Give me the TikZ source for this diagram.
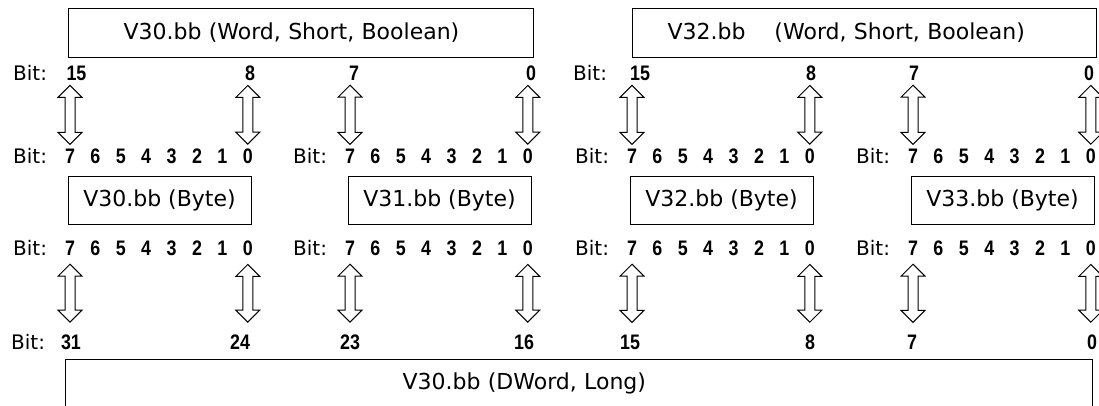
\documentclass[tikz,border=0pt]{standalone}
\usepackage{fontspec}
\setmainfont{DejaVu Sans}
\newfontfamily\digitfont{Liberation Sans}[FakeStretch=0.85]
\usetikzlibrary{calc,positioning}

\begin{document}
\begin{tikzpicture}[
    x=1pt, y=-1pt,
    wordbox/.style={draw, line width=1pt, minimum height=49pt, inner ysep=0pt, align=left, font=\fontsize{22}{26}\selectfont},
    bytebox/.style={draw, line width=1pt, minimum width=183pt, minimum height=48pt, inner sep=0pt, font=\fontsize{22}{26}\selectfont},
    bitlbl/.style={anchor=base west, inner sep=0pt, font=\fontsize{20}{24}\selectfont},
    digit/.style={anchor=base, inner sep=0pt, font=\digitfont\bfseries\fontsize{21}{25}\selectfont},
    dblarrow/.style={draw, line width=1pt, fill=white, to path={
        (\tikztostart) -- ($(\tikztostart)+(12pt,-12pt)$) -- ($(\tikztostart)+(5pt,-12pt)$)
        -- ($(\tikztotarget)+(5pt,12pt)$) -- ($(\tikztotarget)+(12pt,12pt)$) -- (\tikztotarget)
        -- ($(\tikztotarget)+(-12pt,12pt)$) -- ($(\tikztotarget)+(-5pt,12pt)$)
        -- ($(\tikztostart)+(-5pt,-12pt)$) -- ($(\tikztostart)+(-12pt,-12pt)$) -- cycle}}
]
    \clip (0,0) rectangle (1099,405);

    % Word (16 bit)
    \node[wordbox, anchor=north west, text width=355pt, inner xsep=55pt] (wordA) at (68,8) {V30.bb (Word, Short, Boolean)};
    \node[wordbox, anchor=north west, text width=394pt, inner xsep=35pt] (wordB) at (632,8) {V32.bb\hspace{29pt}(Word, Short, Boolean)};
    \node[bitlbl] (wbitA) at (13,80) {Bit:};
    \node[bitlbl] (wbitB) at (573,80) {Bit:};
    \foreach \n/\x/\t in {wa15/76.5/15, wa8/250/8, wa7/354/7, wa0/531/0, wb15/640/15, wb8/811/8, wb7/914/7, wb0/1089/0}
        \node[digit] (\n) at (\x,80) {\t};

    % Byte (8 bit)
    \foreach \g/\x/\nm in {1/70/V30, 2/350/V31, 3/632/V32, 4/913/V33} {
        \node[bytebox] (byte\g) at (\x+89.5,200) {\nm.bb (Byte)};
        \node[bitlbl] (tbit\g) at (\x-57,163) {Bit:};
        \node[bitlbl] (bbit\g) at (\x-57,255) {Bit:};
        \foreach \i in {7,...,0} {
            \node[digit] (t\g\i) at ({\x+(7-\i)*25.4},163) {\i};
            \node[digit] (b\g\i) at ({\x+(7-\i)*25.4},255) {\i};
        }
    }

    % DWord (32 bit)
    \node[bitlbl] (dbit) at (11,349) {Bit:};
    \foreach \n/\x/\t in {d31/71/31, d24/240/24, d23/350/23, d16/524/16, d15/630/15, d8/810/8, d7/912/7, d0/1092/0}
        \node[digit] (\n) at (\x,349) {\t};
    \node[wordbox, anchor=north west, minimum height=48pt, text width=353pt, inner xsep=337pt] (dword) at (65,359) {V30.bb (DWord, Long)};

    % Frecce
    \foreach \d/\w in {t17/wa15, t10/wa8, t27/wa7, t20/wa0, t37/wb15, t30/wb8, t47/wb7, t40/wb0}
        \draw[dblarrow] ([yshift=-5pt]\d |- \w.south) to ([yshift=4pt]\d.north);
    \foreach \d/\w in {b17/d31, b10/d24, b27/d23, b20/d16, b37/d15, b30/d8, b47/d7, b40/d0}
        \draw[dblarrow] ([yshift=-9pt]\d.south) to ([yshift=12pt]\d |- \w.north);
\end{tikzpicture}
\end{document}
